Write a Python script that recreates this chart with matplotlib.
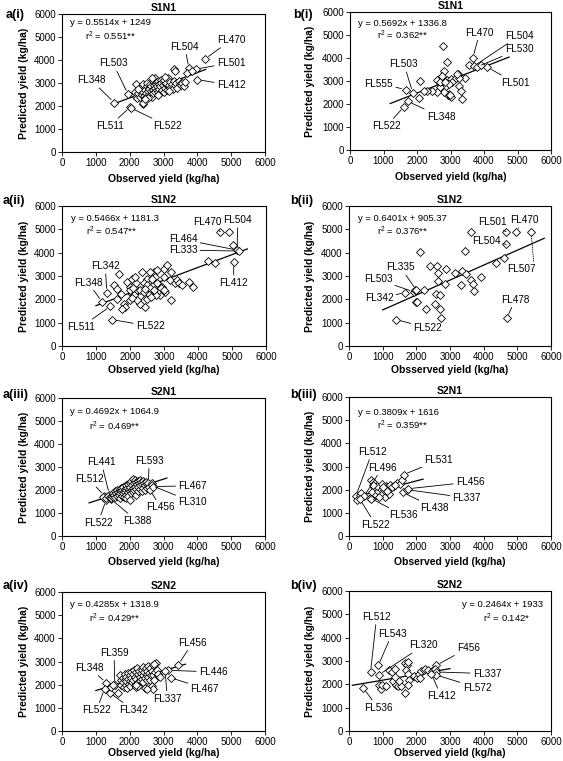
import matplotlib
matplotlib.use("Agg")
import matplotlib.pyplot as plt
import numpy as np

plt.rcParams['font.family'] = ['Liberation Sans', 'DejaVu Sans']
plt.rcParams['mathtext.fontset'] = 'custom'
plt.rcParams['mathtext.rm'] = 'Liberation Sans'
plt.rcParams['mathtext.it'] = 'Liberation Sans:italic'

# ---------------- data (observed, predicted) ----------------
s1n1_a = [(4230, 4050), (3750, 3650), (3950, 3600), (3700, 3450), (3850, 3520), (4000, 3150),
          (1540, 2150), (1950, 2520), (2010, 1950), (2030, 1920), (2390, 2100), (2390, 2140),
          (3320, 3590), (3330, 3520),
          (2150, 2600), (2200, 2950), (2180, 2400), (2220, 2350), (2250, 2550), (2280, 2750),
          (2300, 2650), (2320, 2400), (2350, 2850), (2350, 2500), (2380, 2700), (2400, 2600),
          (2400, 2950), (2420, 2450), (2450, 2700), (2450, 2350), (2480, 2550), (2500, 2850),
          (2500, 3000), (2520, 2450), (2550, 2650), (2560, 2800), (2580, 2750), (2600, 2500),
          (2600, 2950), (2620, 2850), (2640, 2650), (2650, 2400), (2680, 3100), (2700, 2700),
          (2700, 2550), (2720, 2900), (2740, 2800), (2750, 3200), (2760, 2600), (2780, 2950),
          (2800, 3050), (2800, 2700), (2820, 2850), (2840, 2600), (2850, 3100), (2870, 2950),
          (2880, 2750), (2900, 2850), (2900, 2550), (2920, 3150), (2940, 3000), (2950, 2700),
          (2980, 2900), (3000, 2600), (3000, 3050), (3020, 3150), (3040, 2800), (3060, 2950),
          (3080, 3000), (3100, 2700), (3120, 3200), (3150, 2900), (3180, 3050), (3200, 2800),
          (3250, 2950), (3280, 2750), (3300, 3100), (3350, 2900), (3380, 3000), (3400, 2800),
          (3450, 3100), (3480, 2950), (3520, 2900), (3550, 3000), (3600, 2850), (3650, 3050),
          (2550, 2350), (2650, 3200), (3050, 3250), (2450, 2300), (2250, 2750), (3150, 2650),
          (2850, 2500)]

s1n1_b = [(2780, 4520), (2900, 3830), (3670, 4020), (3550, 3700), (3700, 3650), (3800, 3620),
          (3900, 3680), (4100, 3600), (3440, 3150), (3220, 3320), (3240, 2770), (3310, 2570),
          (3340, 2200), (2920, 2380), (3000, 2310), (2970, 2450), (2820, 3420), (2730, 3180),
          (2650, 3000), (2750, 2890), (2850, 2750), (2800, 2530), (2900, 3030), (3000, 3100),
          (3050, 2960), (3150, 3110), (2700, 2750), (2600, 2530), (2450, 2570), (2300, 2570),
          (2200, 2570), (2050, 2270), (1875, 2490), (1660, 2630), (2100, 3000), (1730, 2110),
          (1610, 1880), (2600, 3050), (2700, 2950), (2950, 2850), (3250, 3150), (2750, 3200),
          (2980, 2400), (2850, 2950), (3200, 3300)]

s1n2_a = [(4660, 4900), (4900, 4900), (5150, 4110), (5030, 4350), (5200, 4070), (5050, 3580),
          (4280, 3650), (4510, 3570), (1320, 2290), (1180, 1890), (1420, 1700), (1470, 1130),
          (1670, 3080), (1520, 2610), (1620, 2460), (1735, 2250), (1620, 2030), (1810, 1820),
          (1860, 1680), (1765, 1600), (1990, 1960), (2060, 2250), (1990, 2540), (1910, 2750),
          (2060, 2890), (2190, 2680), (2210, 2390), (2300, 2130), (2300, 1820), (2450, 1680),
          (2350, 3180), (2500, 2890), (2550, 2540), (2500, 2030), (2650, 2390), (2700, 3180),
          (2745, 2970), (2790, 2680), (2870, 2180), (2990, 3320), (3010, 2940), (2940, 2540),
          (3040, 2320), (3190, 2820), (3210, 3180), (3220, 1960), (3330, 2680), (3380, 2850),
          (3430, 2680), (3530, 2610), (3730, 2750), (3850, 2510), (3090, 3470), (2680, 2610),
          (2840, 2540), (2400, 2680), (2110, 2180), (2210, 1960), (2550, 2250), (2750, 2180),
          (2840, 2390), (2650, 2890), (2580, 3180), (2160, 2960), (2790, 3250), (2000, 2400),
          (2100, 2500), (2300, 2400), (2400, 2300), (2500, 2600), (2600, 2500), (2700, 2400),
          (2800, 2700), (2900, 2500), (3000, 2400), (2050, 2050), (2450, 2450), (2620, 2100)]

s1n2_b = [(1410, 1130), (1660, 2280), (1925, 2320), (1950, 2420), (2000, 2400), (2000, 1900),
          (2020, 1880), (2220, 2420), (2100, 4040), (2420, 3440), (2600, 3440), (2640, 3140),
          (2890, 3280), (2640, 2780), (2860, 2650), (2570, 2220), (2690, 2180), (2550, 1780),
          (2690, 1600), (2290, 1580), (2720, 1200), (3160, 3140), (3360, 3210), (3470, 3070),
          (3330, 2610), (3440, 4080), (3630, 2820), (3670, 2650), (3700, 2350), (3930, 2970),
          (3630, 4900), (4370, 3540), (4610, 3780), (4670, 4360), (4660, 4900), (4960, 4900),
          (5410, 4900), (4690, 1200)]

s2n1_a = [(1250, 1750), (1400, 1800), (1300, 1550), (1450, 1600), (1200, 1700),
          (1300, 1650), (1350, 1750), (1420, 1700), (1450, 1650), (1480, 1750), (1500, 1850),
          (1500, 1700), (1550, 1800), (1560, 1950), (1580, 1700), (1600, 1850), (1620, 2000),
          (1640, 1750), (1650, 1900), (1680, 1800), (1700, 2050), (1700, 1950), (1700, 1650),
          (1720, 1850), (1740, 2100), (1750, 1950), (1760, 1750), (1780, 2000), (1800, 1850),
          (1800, 2150), (1820, 1950), (1840, 1700), (1850, 2050), (1860, 1900), (1880, 2200),
          (1880, 1800), (1900, 2000), (1900, 1650), (1920, 2100), (1940, 1900), (1950, 2250),
          (1960, 1750), (1980, 2050), (2000, 1950), (2000, 2300), (2000, 1550), (2020, 2150),
          (2040, 1850), (2050, 2400), (2060, 2000), (2080, 2200), (2100, 1900), (2100, 2500),
          (2100, 2100), (2120, 2300), (2140, 2000), (2150, 2450), (2160, 2150), (2180, 1800),
          (2200, 2350), (2200, 2050), (2220, 2250), (2240, 1950), (2250, 2400), (2260, 2150),
          (2280, 2300), (2300, 2050), (2300, 2450), (2320, 2200), (2340, 2350), (2350, 1950),
          (2370, 2250), (2400, 2100), (2400, 2400), (2420, 2300), (2450, 2200), (2460, 2000),
          (2480, 2350), (2500, 2250), (2500, 2100), (2550, 2300), (2580, 2150), (2600, 2000),
          (2650, 2300), (2650, 2200), (2700, 2150)]

s2n1_b = [(200, 1710), (320, 1760), (365, 1870), (445, 1710), (250, 1540), (320, 1600),
          (610, 1650), (640, 1600), (640, 2400), (710, 2330), (740, 2110), (690, 1900),
          (790, 1750), (870, 1940), (960, 2040), (990, 1830), (1090, 2140), (1070, 1680),
          (1160, 2090), (1230, 2190), (1330, 2140), (1430, 2290), (1500, 2230), (1580, 2400),
          (1620, 2650), (1600, 1880), (1710, 2000), (1760, 2040), (1190, 1830), (820, 2140),
          (990, 2260), (1050, 2000), (1130, 1950), (1280, 2100), (1380, 2200), (700, 2200),
          (900, 1700), (1000, 2100)]

s2n2_a = [(3435, 2860), (3140, 2620), (3210, 2300), (3050, 2600),
          (1310, 2090), (1560, 1970), (1260, 1830), (1410, 1650), (1650, 1650), (1450, 1900),
          (1500, 2000), (1700, 2400), (1750, 2200), (1750, 2000), (1800, 2300), (1800, 2100),
          (1820, 1900), (1850, 2450), (1850, 2200), (1880, 2000), (1900, 2350), (1900, 2150),
          (1920, 1850), (1950, 2500), (1950, 2250), (1980, 2050), (2000, 2400), (2000, 2150),
          (2000, 1950), (2050, 2550), (2050, 2300), (2080, 2100), (2100, 2450), (2100, 2200),
          (2120, 2650), (2150, 2350), (2150, 2000), (2180, 2550), (2200, 2250), (2200, 1900),
          (2220, 2700), (2250, 2450), (2250, 2100), (2280, 2600), (2300, 2350), (2300, 2150),
          (2330, 2500), (2350, 2250), (2350, 2650), (2380, 2400), (2400, 2750), (2400, 2100),
          (2420, 2550), (2450, 2300), (2450, 1850), (2480, 2700), (2500, 2450), (2500, 2200),
          (2520, 2600), (2550, 2800), (2550, 2350), (2580, 2500), (2600, 2700), (2600, 2200),
          (2620, 2400), (2650, 2600), (2650, 1950), (2700, 2850), (2700, 2400), (2700, 1830),
          (2720, 2200), (2750, 2550), (2790, 2950), (2710, 2880), (2800, 2650), (2850, 2450),
          (2900, 2350), (2500, 1830), (2250, 1930), (2200, 2000)]

s2n2_b = [(425, 1840), (640, 2530), (870, 2810), (890, 2410), (890, 1990), (940, 1810),
          (990, 1960), (1090, 1930), (1180, 2600), (1280, 2530), (1380, 2670), (1310, 2130),
          (1400, 1960), (1460, 1930), (1530, 1930), (1480, 2130), (1380, 2310), (1650, 2910),
          (1730, 2840), (1760, 2960), (1680, 2600), (1760, 2430), (1780, 2170), (1750, 1990),
          (1650, 1630), (1930, 2340), (2020, 2290), (2070, 2460), (2150, 2570), (2220, 2630),
          (2270, 2670), (2120, 2290), (2350, 2600), (2470, 2570), (2590, 2810), (2550, 2670),
          (2590, 2530), (2570, 2410), (2440, 2460)]

# regression: slope, intercept, x-range of fitted line
slopes = [0.5514, 0.5692, 0.5466, 0.6401, 0.4692, 0.3809, 0.4285, 0.2464]
intercepts = [1249, 1336.8, 1181.3, 905.37, 1064.9, 1616, 1318.9, 1933]
line_ranges = [(1500, 4250), (1200, 4750), (1000, 5450), (1000, 5800),
               (800, 3100), (200, 2200), (1000, 3650), (100, 3000)]
eq_texts = ["y = 0.5514x + 1249", "y = 0.5692x + 1336.8", "y = 0.5466x + 1181.3",
            "y = 0.6401x + 905.37", "y = 0.4692x + 1064.9", "y = 0.3809x + 1616",
            "y = 0.4285x + 1318.9", "y = 0.2464x + 1933"]
r2_texts = ["0.551**", "0.362**", "0.547**", "0.376**", "0.469**", "0.359**", "0.429**", "0.142*"]
titles = ["S1N1", "S1N1", "S1N2", "S1N2", "S2N1", "S2N1", "S2N2", "S2N2"]
panel_labels = ["a(i)", "b(i)", "a(ii)", "b(ii)", "a(iii)", "b(iii)", "a(iv)", "b(iv)"]
xlabels = ["Observed yield (kg/ha)"] * 3 + ["Obsserved yield (kg/ha)"] + ["Observed yield (kg/ha)"] * 4
ticks = [0, 1000, 2000, 3000, 4000, 5000, 6000]
datasets = [s1n1_a, s1n1_b, s1n2_a, s1n2_b, s2n1_a, s2n1_b, s2n2_a, s2n2_b]

# annotations: (label, point, text position)
anns = [
    [("FL470", (4230, 4050), (5000, 4870)), ("FL504", (3750, 3650), (3630, 4580)),
     ("FL501", (3950, 3600), (5000, 3880)), ("FL412", (4000, 3150), (5000, 2900)),
     ("FL503", (1950, 2520), (1510, 3850)), ("FL348", (1540, 2150), (870, 3120)),
     ("FL511", (2010, 1950), (1410, 1130)), ("FL522", (2030, 1920), (3130, 1130))],
    [("FL470", (3670, 4020), (3870, 5100)), ("FL504", (3700, 3650), (5050, 4960)),
     ("FL530", (3800, 3620), (5050, 4380)), ("FL501", (4100, 3600), (4930, 2920)),
     ("FL503", (1875, 2490), (1610, 3730)), ("FL555", (1660, 2630), (860, 2890)),
     ("FL348", (1730, 2110), (2720, 1450)), ("FL522", (1610, 1880), (1090, 1040))],
    [("FL470", (4660, 4900), (4280, 5300)), ("FL504", (5150, 4110), (5170, 5400)),
     ("FL464", (5150, 4110), (3560, 4570)), ("FL333", (5200, 4070), (3560, 4110)),
     ("FL412", (5050, 3580), (5050, 2710)), ("FL342", (1320, 2290), (1270, 3420)),
     ("FL348", (1180, 1890), (765, 2720)), ("FL511", (1420, 1700), (570, 820)),
     ("FL522", (1470, 1130), (2600, 850))],
    [("FL501", (4660, 4900), (4250, 5300)), ("FL470", (4960, 4900), (5200, 5400)),
     ("FL504", (4670, 4360), (4070, 4500)), ("FL478", (4690, 1200), (4940, 1990)),
     ("FL335", (2000, 2400), (1530, 3370)), ("FL503", (1925, 2320), (860, 2850)),
     ("FL342", (1660, 2280), (890, 2060)), ("FL522", (1410, 1130), (2340, 770))],
    [("FL441", (1400, 1800), (1160, 3210)), ("FL512", (1250, 1750), (800, 2470)),
     ("FL522", (1300, 1550), (1070, 580)), ("FL388", (1450, 1600), (2220, 650)),
     ("FL593", (2550, 2300), (2580, 3270)), ("FL467", (2700, 2150), (3860, 2180)),
     ("FL310", (2650, 2200), (3860, 1470)), ("FL456", (2600, 2000), (2920, 1240))],
    [("FL512", (200, 1710), (690, 3630)), ("FL496", (445, 1710), (990, 2950)),
     ("FL531", (1620, 2650), (2670, 3270)), ("FL456", (1760, 2040), (3600, 2330)),
     ("FL337", (1710, 2000), (3500, 1650)), ("FL438", (1600, 1880), (2550, 1210)),
     ("FL536", (610, 1650), (1630, 890)), ("FL522", (320, 1600), (790, 490))],
    [("FL456", (3435, 2860), (3860, 3810)), ("FL359", (1560, 1970), (1540, 3380)),
     ("FL348", (1310, 2090), (800, 2720)), ("FL446", (3140, 2620), (4470, 2550)),
     ("FL467", (3210, 2300), (4220, 1830)), ("FL337", (3050, 2600), (3110, 1400)),
     ("FL522", (1260, 1830), (1020, 890)), ("FL342", (1410, 1650), (2120, 890))],
    [("FL512", (640, 2530), (820, 4890)), ("FL543", (870, 2810), (1280, 4170)),
     ("FL320", (890, 2410), (2220, 3670)), ("F456", (2590, 2810), (3550, 3570)),
     ("FL337", (2590, 2530), (4100, 2460)), ("FL572", (2570, 2410), (3800, 1860)),
     ("FL412", (2440, 2460), (2740, 1500)), ("FL536", (425, 1840), (860, 1000))],
]

# ---------------- layout (pixel boxes: left, top, right, bottom) ----------------
W, H = 563, 761
boxes = [(62, 14, 265, 152), (350, 12, 551, 150),
         (62, 206, 266, 346), (349, 206, 551, 346),
         (62, 398, 265, 536), (349, 397, 551, 536),
         (62, 592, 265, 731), (349, 591, 551, 731)]
xlabel_offsets = [27, 27, 24, 24, 26, 26, 22.5, 22.5]
eq_pos = [(236, 5620, 670, 5040), (250, 5520, 810, 4990), (265, 5470, 715, 4930),
          (275, 5470, 840, 4900), (230, 5420, 800, 4770), (275, 5320, 840, 4780),
          (230, 5450, 800, 4880), (None, 5410, None, 4840)]
plabel_pos = [(6, 15), (293, 15), (3, 201), (290, 201), (3, 395), (290, 395), (3, 586), (290, 586)]

fig = plt.figure(figsize=(W / 100, H / 100), dpi=100)

for i in range(8):
    l, t, r, b = boxes[i]
    ax = fig.add_axes([l / W, 1 - b / H, (r - l) / W, (b - t) / H])
    pts = np.array(datasets[i], dtype=float)
    x0, x1 = line_ranges[i]
    lx = np.array([x0, x1])
    ax.plot(lx, slopes[i] * lx + intercepts[i], color='black', lw=0.9, zorder=2)
    ax.plot(pts[:, 0], pts[:, 1], 'D', ms=4, mfc='white', mec='black', mew=0.6,
            ls='none', zorder=3)
    ax.set_xlim(0, 6000)
    ax.set_ylim(0, 6000)
    ax.set_xticks(ticks)
    ax.set_yticks(ticks)
    ax.tick_params(labelsize=7, direction='out', length=3, width=0.6, pad=1.5)
    for s in ax.spines.values():
        s.set_linewidth(0.8)
    ax.set_title(titles[i], fontsize=7.5, fontweight='bold', pad=2)
    ax.set_xlabel(xlabels[i], fontsize=7.5, fontweight='bold', va='center')
    ax.xaxis.set_label_coords(0.5, -xlabel_offsets[i] / (b - t))
    ax.set_ylabel("Predicted yield (kg/ha)", fontsize=7.5, fontweight='bold', va='center')
    ax.yaxis.set_label_coords((24 - l) / (r - l) if i % 2 == 0 else (310 - l) / (r - l), 0.5)

    ex, ey, rx, ry = eq_pos[i]
    if ex is None:
        ax.text(5750, ey, eq_texts[i], fontsize=6.8, ha='right', va='center')
        ax.text(5400, ry, "r$^{2}$ = " + r2_texts[i], fontsize=6.8, ha='right', va='center')
    else:
        ax.text(ex, ey, eq_texts[i], fontsize=6.8, ha='left', va='center')
        ax.text(rx, ry, "r$^{2}$ = " + r2_texts[i], fontsize=6.8, ha='left', va='center')

    for lab, pt, tp in anns[i]:
        ax.annotate(lab, xy=pt, xytext=tp, fontsize=7.2, ha='center', va='center',
                    arrowprops=dict(arrowstyle='-', lw=0.6, color='black',
                                    shrinkA=0, shrinkB=3))
    if i == 3:
        ax.annotate("FL507", xy=(5410, 4900), xytext=(5110, 3300), fontsize=7.2,
                    ha='center', va='center',
                    arrowprops=dict(arrowstyle='-', lw=0.6, color='black', ls=':',
                                    shrinkA=0, shrinkB=3, relpos=(0.95, 1.0)))

    px, py = plabel_pos[i]
    fig.text(px / W, 1 - py / H, panel_labels[i], fontsize=9, fontweight='bold',
             ha='left', va='center')

fig.savefig("out.png", dpi=100)
